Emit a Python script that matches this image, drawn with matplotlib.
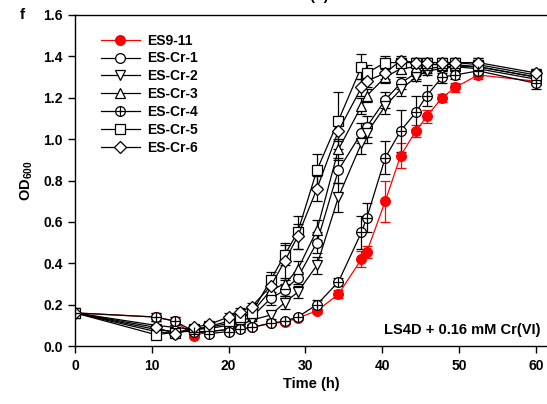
import numpy as np
import matplotlib
matplotlib.use("Agg")
import matplotlib.pyplot as plt
from matplotlib.legend_handler import HandlerTuple

plt.rcParams['font.family'] = ['Liberation Sans', 'DejaVu Sans']
plt.rcParams['font.weight'] = 'bold'
plt.rcParams['mathtext.fontset'] = 'custom'
plt.rcParams['mathtext.bf'] = 'Liberation Sans:bold'
plt.rcParams['mathtext.rm'] = 'Liberation Sans:bold'

# sampling times (h)
time_h = [0, 10.5, 13, 15.5, 17.5, 20, 21.5, 23, 25.5, 27.3, 29, 31.5, 34.3,
          37.3, 38, 40.4, 42.4, 44.4, 45.8, 47.8, 49.5, 52.5, 60]

labels = ["ES9-11", "ES-Cr-1", "ES-Cr-2", "ES-Cr-3", "ES-Cr-4", "ES-Cr-5", "ES-Cr-6"]

od_es9_11 = [0.16, 0.14, 0.12, 0.05, 0.07, 0.08, 0.085, 0.09, 0.11, 0.115, 0.135, 0.17, 0.25,
             0.42, 0.455, 0.70, 0.92, 1.04, 1.11, 1.20, 1.25, 1.31, 1.28]
err_es9_11 = [0.01, 0.02, 0.02, 0.01, 0.01, 0.01, 0.01, 0.01, 0.01, 0.01, 0.01, 0.01, 0.02,
              0.04, 0.03, 0.10, 0.06, 0.03, 0.03, 0.02, 0.02, 0.02, 0.02]

od_cr1 = [0.16, 0.07, 0.06, 0.08, 0.085, 0.10, 0.12, 0.14, 0.23, 0.27, 0.33, 0.50, 0.85,
          1.03, 1.06, 1.19, 1.27, 1.32, 1.34, 1.35, 1.35, 1.35, 1.30]
err_cr1 = [0.01, 0.02, 0.01, 0.01, 0.01, 0.01, 0.02, 0.02, 0.03, 0.03, 0.03, 0.05, 0.06,
           0.05, 0.05, 0.04, 0.03, 0.03, 0.02, 0.02, 0.02, 0.03, 0.02]

od_cr2 = [0.16, 0.08, 0.07, 0.07, 0.07, 0.08, 0.10, 0.125, 0.15, 0.21, 0.26, 0.39, 0.72,
          0.98, 1.03, 1.16, 1.24, 1.30, 1.33, 1.34, 1.35, 1.34, 1.29]
err_cr2 = [0.01, 0.01, 0.01, 0.01, 0.01, 0.01, 0.01, 0.02, 0.02, 0.03, 0.03, 0.04, 0.07,
           0.05, 0.05, 0.04, 0.03, 0.02, 0.02, 0.02, 0.02, 0.02, 0.02]

od_cr3 = [0.16, 0.10, 0.09, 0.08, 0.09, 0.11, 0.13, 0.16, 0.27, 0.30, 0.37, 0.56, 0.95,
          1.16, 1.21, 1.30, 1.34, 1.35, 1.36, 1.36, 1.36, 1.35, 1.30]
err_cr3 = [0.01, 0.02, 0.01, 0.01, 0.01, 0.01, 0.02, 0.02, 0.03, 0.03, 0.04, 0.05, 0.05,
           0.04, 0.03, 0.03, 0.02, 0.02, 0.02, 0.02, 0.02, 0.02, 0.02]

od_cr4 = [0.16, 0.14, 0.12, 0.07, 0.06, 0.07, 0.08, 0.09, 0.11, 0.12, 0.14, 0.20, 0.31,
          0.55, 0.62, 0.91, 1.04, 1.13, 1.21, 1.30, 1.31, 1.33, 1.27]
err_cr4 = [0.01, 0.02, 0.02, 0.01, 0.01, 0.01, 0.01, 0.01, 0.01, 0.01, 0.01, 0.02, 0.02,
           0.08, 0.07, 0.08, 0.10, 0.08, 0.05, 0.03, 0.02, 0.02, 0.03]

od_cr5 = [0.16, 0.055, 0.065, 0.08, 0.095, 0.12, 0.14, 0.16, 0.32, 0.44, 0.55, 0.85, 1.09,
          1.35, 1.32, 1.37, 1.37, 1.37, 1.37, 1.37, 1.37, 1.36, 1.31]
err_cr5 = [0.01, 0.01, 0.01, 0.01, 0.01, 0.02, 0.02, 0.02, 0.04, 0.05, 0.08, 0.08, 0.14,
           0.06, 0.04, 0.03, 0.02, 0.02, 0.02, 0.02, 0.02, 0.03, 0.03]

od_cr6 = [0.16, 0.09, 0.06, 0.09, 0.105, 0.14, 0.165, 0.19, 0.29, 0.41, 0.53, 0.76, 1.04,
          1.25, 1.28, 1.32, 1.38, 1.37, 1.37, 1.37, 1.37, 1.37, 1.32]
err_cr6 = [0.01, 0.01, 0.01, 0.01, 0.01, 0.02, 0.02, 0.02, 0.04, 0.09, 0.06, 0.06, 0.05,
           0.04, 0.03, 0.03, 0.02, 0.02, 0.02, 0.02, 0.02, 0.02, 0.02]

series = [od_es9_11, od_cr1, od_cr2, od_cr3, od_cr4, od_cr5, od_cr6]
errors = [err_es9_11, err_cr1, err_cr2, err_cr3, err_cr4, err_cr5, err_cr6]
markers = ["o", "o", "v", "^", "o+", "s", "D"]

fig = plt.figure(figsize=(5.47, 4.04), dpi=100)
ax = fig.add_axes([75 / 547, 58 / 404, 472 / 547, 331 / 404])

handles = []
for i, (vals, errs, mk, lab) in enumerate(zip(series, errors, markers, labels)):
    if i == 0:
        color, face = "red", "red"
    else:
        color, face = "black", "white"
    ms = 6 if mk == "D" else 7
    base = "o" if mk == "o+" else mk
    eb = ax.errorbar(time_h, vals, yerr=errs, color=color, lw=0.9, marker=base, ms=ms,
                     mfc=face, mec=color, mew=0.9, ecolor=color, elinewidth=0.9,
                     capsize=3.6, capthick=0.9, label=lab, zorder=2)
    if mk == "o+":
        plus = ax.plot(time_h, vals, ls="none", marker="+", ms=7, mew=0.9,
                       color=color, zorder=3)[0]
        handles.append((eb[0], plus))
    else:
        handles.append(eb[0])

ax.set_xlim(0, 61.46)
ax.set_ylim(0, 1.6)
ax.set_xticks(range(0, 61, 10))
ax.set_yticks(np.arange(0, 1.61, 0.2))
ax.set_yticklabels([f"{v:.1f}" for v in np.arange(0, 1.61, 0.2)])
ax.tick_params(direction="out", length=5, width=1, labelsize=10, pad=4)
for lbl in ax.get_xticklabels() + ax.get_yticklabels():
    lbl.set_fontweight("bold")
ax.spines["right"].set_visible(False)
for s in ["left", "bottom", "top"]:
    ax.spines[s].set_linewidth(1)

ax.set_xlabel("Time (h)", fontsize=10.5, fontweight="bold", labelpad=3)
ax.set_ylabel(r"$\mathbf{OD_{600}}$", fontsize=10.5, labelpad=6)

leg = ax.legend(handles=handles, labels=labels, loc="upper left",
                bbox_to_anchor=(0.04, 0.965), frameon=False, fontsize=10,
                handlelength=2.8, handletextpad=0.5, labelspacing=0.28, borderpad=0,
                handler_map={tuple: HandlerTuple(ndivide=1, pad=0)})
for t in leg.get_texts():
    t.set_fontweight("bold")

ax.text(60.6, 0.075, "LS4D + 0.16 mM Cr(VI)", ha="right", va="center",
        fontsize=10.5, fontweight="bold")

fig.text(20 / 547, 1 - 15 / 404, "f", fontsize=11, fontweight="bold", ha="left", va="center")
fig.text(300 / 547, 1 + 4 / 404, "Time (h)", fontsize=10.5, fontweight="bold",
         ha="center", va="center")

fig.savefig("out.png", dpi=100)
